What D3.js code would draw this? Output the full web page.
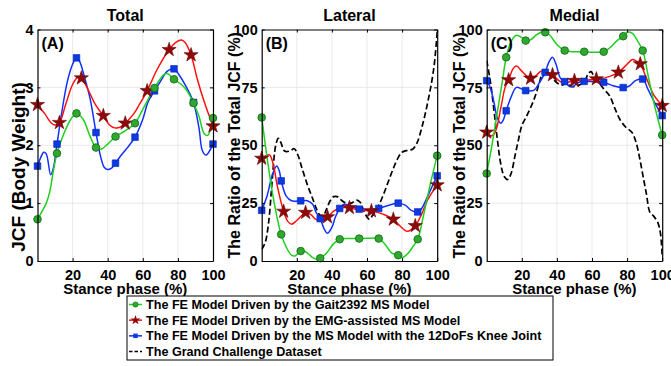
<!DOCTYPE html>
<html lang="en">
<head>
<meta charset="UTF-8">
<title>JCF stance phase</title>
<style>
  body { margin: 0; background: #fff; }
  text { font-family: "Liberation Sans", Arial, sans-serif; font-weight: bold; fill: #000; }
</style>
</head>
<body>
<svg id="chart" width="671" height="366"></svg>
<script src="https://cdn.jsdelivr.net/npm/d3@7/dist/d3.min.js"></script>
<script>
// marker positions along the stance phase (%)
const markX10 = d3.range(10).map(i => i * 100 / 9);   // circles and squares
const markX9 = d3.range(9).map(i => i * 12.5);         // stars

// ---- (A) Total, body weight ----
const totalGaitMarks = [0.72, 1.86, 2.55, 1.96, 2.15, 2.38, 2.99, 3.14, 2.73, 2.47];
const totalEmgMarks = [2.70, 2.39, 3.16, 2.51, 2.38, 2.94, 3.65, 3.56, 2.33];
const total12DofMarks = [1.64, 2.02, 3.51, 2.22, 1.69, 2.14, 2.94, 3.32, 2.74, 2.02];
const totalGait = [[3,0.88],[5,1.0],[7,1.2],[9,1.55],[15,2.2],[19,2.45],[26,2.45],[30,2.15],[36,1.93],[40,2.02],[50,2.25],[60,2.62],[72,3.22],[74,3.24],[82,3.05],[85,2.95],[92,2.5],[95,2.2],[97,2.17]];
const totalEmg = [[4,2.55],[8,2.38],[10,2.35],[16,2.7],[20,3.05],[23,3.18],[29,2.95],[33,2.7],[41,2.35],[44,2.3],[47,2.31],[55,2.55],[58,2.7],[68,3.3],[79,3.78],[82,3.82],[84,3.78],[91,3.15],[95,2.75]];
const total12Dof = [[2,1.8],[3.5,1.88],[5,1.85],[7.5,1.49],[9,1.6],[14,2.6],[17,3.1],[20,3.4],[24,3.45],[27,3.15],[30,2.8],[36,1.8],[38,1.62],[40,1.58],[42,1.6],[47,1.8],[51,1.95],[60,2.45],[63,2.75],[70,3.1],[74,3.28],[81,3.2],[84,3.05],[92,2.3],[94,1.9],[96,1.83],[98,1.9]];

// ---- (B) Lateral, % of total ----
const latGaitMarks = [62, 11.5, 4.3, 1.2, 9.4, 9.7, 9.7, 2.5, 9.4, 45.5];
const latEmgMarks = [44.3, 21.4, 20.9, 19, 23, 21.6, 18, 15.2, 32.8];
const lat12DofMarks = [21.9, 34.6, 26, 18.3, 22.7, 22.4, 22.7, 25, 21.2, 36.8];
const latGait = [[3,45],[6,30],[9,18],[14,6],[17,2.5],[19,2.2],[25,4],[29,1.5],[31,0.8],[37,3.5],[41,7.5],[50,9.7],[60,9.8],[70,7.5],[74,3.5],[80,1.5],[83,3],[86,6],[92,19],[96,33]];
const latEmg = [[2.5,45.5],[4.5,45.8],[6.5,42],[9,32],[15,17],[17,15.9],[20,17.5],[28,20],[31,18],[34,17.8],[41,21.5],[45,23],[55,22],[66,21],[70,20],[79,15],[83,12.8],[91,20],[95,27]];
const lat12Dof = [[3,28],[6,37],[8.5,41],[10,39],[14,28],[17,26],[26,26],[29,24.5],[31,21],[35.5,14],[37.5,12],[40,14.5],[42,19],[47,24.5],[50,24],[61,22.3],[72,24],[82,24],[85,22],[91,22.5],[94,27],[97,32]];
const latGrand = [[0,5],[2,8],[4,17],[6,35],[8,50],[9.5,53],[11,51],[13,47.5],[16,47.5],[18.5,48.5],[20.5,46],[23,40],[26,33],[29,27],[31.5,22],[33.5,19.5],[35,19.5],[37,22.5],[39,26],[41,27.8],[43,27.8],[45,26.5],[48,25],[51,25],[54,26.3],[56,25.5],[58,22],[60,19],[61.5,18],[63,19.5],[66,23],[69,28],[72,34],[75,40],[78,45],[80,47],[83,47.8],[86,48.3],[88.5,51],[91,57],[93,63],[95,70],[97,78],[98.5,86],[100,99]];

// ---- (C) Medial, % of total ----
const medGaitMarks = [37.8, 88, 95.2, 98.8, 90.9, 90.4, 90.4, 97.1, 90.9, 54.4];
const medEmgMarks = [55.6, 78.2, 78.9, 80.4, 77.9, 78.6, 81.5, 85.1, 67.1];
const med12DofMarks = [77.9, 64.9, 73.6, 81.5, 77.5, 77.6, 77.2, 74.9, 78.6, 62.8];
const medGait = [[3,50],[6,64],[9,78],[14,95],[17,97.5],[20,96.5],[25,95.5],[28,97.5],[31,98.8],[36,97.5],[40,93.5],[50,90.4],[60,90.2],[70,92],[74,95],[80,98.8],[83,98.3],[86,95],[92,80],[96,66]];
const medEmg = [[2.5,54],[5,56],[8,66],[10.5,75],[15,83],[17,84.2],[20,82],[28,80],[31,82],[33,82],[41,78],[44,77],[55,78],[67,79],[80,85],[83,87],[85,86.5],[91,79],[95,72]];
const med12Dof = [[2,75],[4,69],[6,62],[8,59.5],[9.5,61],[14,71],[17,75],[27,73.8],[30,77],[35.5,86],[37.5,88],[39.5,85],[42,79],[47,75.5],[49,75.3],[52,77],[60,77.5],[72,75.7],[81,75.5],[85,78],[92,74],[96,68]];
const medGrand = [[0,86.6],[2,78],[4,66],[6,53],[8,42],[10,36.5],[12,35.2],[14,38],[16,45],[18,52],[20,58.4],[23,63],[26,68],[28,72],[30,77],[32,81.5],[33.5,82.3],[35,81],[38,78.5],[40,77],[43,76],[46,77],[48,75.5],[51,75.5],[54,76.5],[56,78],[58,81],[59.5,81.8],[61,80],[64,77],[67,74],[70,71.4],[73,66],[76,61],[79,58],[82.7,55.6],[85,51.5],[87,45],[89,37],[91,29],[93,21],[95,19.5],[97.5,16.6],[99,12],[100,2.2]];

const titles = ["Total", "Lateral", "Medial"];
const panelTags = ["(A)", "(B)", "(C)"];
const yLabels = ["JCF (Body Weight)", "The Ratio of the Total JCF (%)", "The Ratio of the Total JCF (%)"];
const xLabel = "Stance phase (%)";
const xTicks = [20, 40, 60, 80, 100];
const legendNames = [
  "The FE Model Driven by the Gait2392 MS Model",
  "The FE Model Driven by the EMG-assisted MS Model",
  "The FE Model Driven by the MS Model with the 12DoFs Knee Joint",
  "The Grand Challenge Dataset"
];

const GREEN = "#1fd01f", GREEN_FILL = "#2ea82e", GREEN_EDGE = "#1a6e1a";
const RED = "#ff1010", STAR_FILL = "#8c0a0a";
const BLUE = "#1030ff", BLUE_FILL = "#0a3ae0";

// merge marker points into the curve so the line runs through them
function curvePts(shape, marks, mx) {
  const m = marks.map((v, i) => [mx[i], v]);
  const s = shape.filter(p => !mx.some(x => Math.abs(x - p[0]) < 0.8));
  return s.concat(m).sort((a, b) => a[0] - b[0]);
}

const panels = [
  { left: 37.5, yMax: 4, yTicks: [0, 1, 2, 3, 4], labX: 25, labSize: 19,
    gait: curvePts(totalGait, totalGaitMarks, markX10), gaitM: totalGaitMarks,
    emg: curvePts(totalEmg, totalEmgMarks, markX9), emgM: totalEmgMarks,
    dof: curvePts(total12Dof, total12DofMarks, markX10), dofM: total12DofMarks,
    grand: null },
  { left: 261.7, yMax: 100, yTicks: [0, 25, 50, 75, 100], labX: 239.5, labSize: 16,
    gait: curvePts(latGait, latGaitMarks, markX10), gaitM: latGaitMarks,
    emg: curvePts(latEmg, latEmgMarks, markX9), emgM: latEmgMarks,
    dof: curvePts(lat12Dof, lat12DofMarks, markX10), dofM: lat12DofMarks,
    grand: latGrand },
  { left: 486.7, yMax: 100, yTicks: [0, 25, 50, 75, 100], labX: 464.5, labSize: 16,
    gait: curvePts(medGait, medGaitMarks, markX10), gaitM: medGaitMarks,
    emg: curvePts(medEmg, medEmgMarks, markX9), emgM: medEmgMarks,
    dof: curvePts(med12Dof, med12DofMarks, markX10), dofM: med12DofMarks,
    grand: medGrand }
];

const svg = d3.select("#chart");
const pw = 175.5, plotTop = 29.5, plotBottom = 261;
const star = d3.symbol().type(d3.symbolStar).size(62);
const square = d3.symbol().type(d3.symbolSquare).size(44);

panels.forEach((p, k) => {
  const x = d3.scaleLinear().domain([0, 100]).range([p.left, p.left + pw]);
  const y = d3.scaleLinear().domain([0, p.yMax]).range([plotBottom, plotTop]);
  const g = svg.append("g");

  g.append("clipPath").attr("id", "clip" + k)
    .append("rect").attr("x", p.left).attr("y", plotTop).attr("width", pw).attr("height", plotBottom - plotTop);

  // grid
  g.selectAll(".gx").data(xTicks.slice(0, -1)).join("line")
    .attr("x1", d => x(d)).attr("x2", d => x(d)).attr("y1", plotTop).attr("y2", plotBottom)
    .attr("stroke", "#e3e3e3").attr("stroke-width", 0.8);
  g.selectAll(".gy").data(p.yTicks.slice(1, -1)).join("line")
    .attr("y1", d => y(d)).attr("y2", d => y(d)).attr("x1", p.left).attr("x2", p.left + pw)
    .attr("stroke", "#e3e3e3").attr("stroke-width", 0.8);

  const line = d3.line().x(d => x(d[0])).y(d => y(d[1])).curve(d3.curveCatmullRom.alpha(0.5));
  const lines = g.append("g").attr("clip-path", `url(#clip${k})`);
  if (p.grand) {
    lines.append("path").attr("d", line(p.grand)).attr("fill", "none")
      .attr("stroke", "#000").attr("stroke-width", 1.7).attr("stroke-dasharray", "6,3");
  }
  lines.append("path").attr("d", line(p.dof)).attr("fill", "none").attr("stroke", BLUE).attr("stroke-width", 1.5);
  lines.append("path").attr("d", line(p.emg)).attr("fill", "none").attr("stroke", RED).attr("stroke-width", 1.5);
  lines.append("path").attr("d", line(p.gait)).attr("fill", "none").attr("stroke", GREEN).attr("stroke-width", 1.5);

  // markers
  g.selectAll(".sq").data(p.dofM).join("path")
    .attr("d", square).attr("transform", (d, i) => `translate(${x(markX10[i])},${y(d)})`)
    .attr("fill", BLUE_FILL).attr("stroke", "#0020c0").attr("stroke-width", 0.6);
  g.selectAll(".st").data(p.emgM).join("path")
    .attr("d", star).attr("transform", (d, i) => `translate(${x(markX9[i])},${y(d)})`)
    .attr("fill", STAR_FILL).attr("stroke", "#6a0000").attr("stroke-width", 0.6);
  g.selectAll(".ci").data(p.gaitM).join("circle")
    .attr("cx", (d, i) => x(markX10[i])).attr("cy", d => y(d)).attr("r", 3.8)
    .attr("fill", GREEN_FILL).attr("stroke", GREEN_EDGE).attr("stroke-width", 0.9);

  // axes (box with inward ticks on all sides)
  g.append("g").attr("transform", `translate(0,${plotBottom})`)
    .call(d3.axisBottom(x).tickValues(xTicks).tickSize(-3).tickSizeOuter(0).tickPadding(9).tickFormat(d3.format("d")));
  g.append("g").attr("transform", `translate(0,${plotTop})`)
    .call(d3.axisTop(x).tickValues(xTicks).tickSize(-3).tickSizeOuter(0).tickFormat(""));
  g.append("g").attr("transform", `translate(${p.left},0)`)
    .call(d3.axisLeft(y).tickValues(p.yTicks).tickSize(-3).tickSizeOuter(0).tickPadding(4).tickFormat(d3.format("d")));
  g.append("g").attr("transform", `translate(${p.left + pw},0)`)
    .call(d3.axisRight(y).tickValues(p.yTicks).tickSize(-3).tickSizeOuter(0).tickFormat(""));
  g.selectAll(".domain").attr("stroke", "#000").attr("stroke-width", 1.2);
  g.selectAll(".tick line").attr("stroke", "#000").attr("stroke-width", 1);
  g.selectAll(".tick text").style("font-size", "14.5px").style("font-weight", "bold")
    .style("font-family", '"Liberation Sans", Arial, sans-serif');

  // texts
  g.append("text").attr("x", p.left + pw / 2).attr("y", 21).attr("text-anchor", "middle")
    .style("font-size", "16px").text(titles[k]);
  g.append("text").attr("x", p.left + 4).attr("y", 48.5)
    .style("font-size", "16px").text(panelTags[k]);
  g.append("text").attr("x", p.left + pw / 2).attr("y", 294).attr("text-anchor", "middle")
    .style("font-size", "15px").text(xLabel);
  const ly = k === 0 ? 167 : (plotTop + plotBottom) / 2;
  g.append("text").attr("transform", `translate(${p.labX},${ly}) rotate(-90)`)
    .attr("text-anchor", "middle").style("font-size", p.labSize + "px").text(yLabels[k]);
});

// legend
const lg = svg.append("g");
lg.append("rect").attr("x", 127).attr("y", 296).attr("width", 426).attr("height", 64)
  .attr("fill", "#fff").attr("stroke", "#000").attr("stroke-width", 1);
const rowY = d3.scalePoint().domain(d3.range(4)).range([304.5, 351.5]);
const legendColors = [GREEN, RED, BLUE, "#000"];
legendNames.forEach((name, i) => {
  const yy = rowY(i);
  lg.append("line").attr("x1", 129).attr("x2", 142).attr("y1", yy).attr("y2", yy)
    .attr("stroke", legendColors[i]).attr("stroke-width", i === 3 ? 1.7 : 1.5)
    .attr("stroke-dasharray", i === 3 ? "3.5,2" : null);
  if (i === 0) lg.append("circle").attr("cx", 135.5).attr("cy", yy).attr("r", 2.6)
    .attr("fill", GREEN_FILL).attr("stroke", GREEN_EDGE).attr("stroke-width", 0.7);
  if (i === 1) lg.append("path").attr("d", d3.symbol().type(d3.symbolStar).size(30))
    .attr("transform", `translate(135.5,${yy})`).attr("fill", STAR_FILL);
  if (i === 2) lg.append("path").attr("d", d3.symbol().type(d3.symbolSquare).size(20))
    .attr("transform", `translate(135.5,${yy})`).attr("fill", BLUE_FILL);
  lg.append("text").attr("x", 146).attr("y", yy).attr("dy", "0.36em")
    .style("font-size", "12.6px").text(name);
});
</script>
</body>
</html>
